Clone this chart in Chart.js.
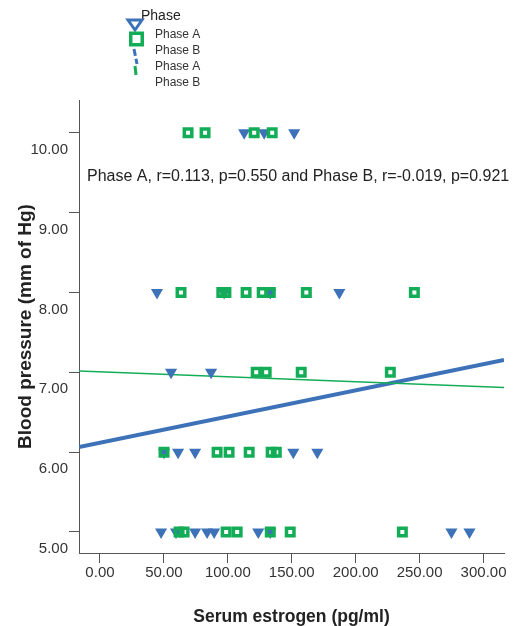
<!DOCTYPE html>
<html>
<head>
<meta charset="utf-8">
<script src="https://cdn.jsdelivr.net/npm/chart.js@4.4.1/dist/chart.umd.min.js"></script>
<style>
  html, body { margin: 0; padding: 0; background: #fff; }
  #wrap { width: 516px; height: 626px; position: relative; }
</style>
</head>
<body>
<div id="wrap"><canvas id="chartBP"></canvas></div>
<script>
// ===== DATA =====
// Phase A (blue triangles)
const phaseAX = [112.8, 128.4, 151.9,
  44.6, 97.1, 133.2, 187.2,
  55.6, 86.9,
  50.1, 61.1, 74.4, 151.2, 170.0,
  47.8, 59.5, 74.4, 83.8, 89.3, 123.8, 133.2, 274.9, 289.0];
const phaseAY = [10, 10, 10,
  8, 8, 8, 8,
  7, 7,
  6, 6, 6, 6, 6,
  5, 5, 5, 5, 5, 5, 5, 5, 5];

// Phase B (green squares)
const phaseBX = [68.9, 82.2, 120.6, 134.7,
  63.4, 95.3, 98.5, 114.3, 126.9, 133.2, 161.4, 245.9,
  122.2, 130.0, 157.4, 227.1,
  50.1, 91.6, 101.0, 116.7, 133.9, 137.9,
  61.9, 65.8, 98.7, 107.3, 133.2, 148.8, 236.5];
const phaseBY = [10, 10, 10, 10,
  8, 8, 8, 8, 8, 8, 8, 8,
  7, 7, 7, 7,
  6, 6, 6, 6, 6, 6,
  5, 5, 5, 5, 5, 5, 5];

// fit lines (end points across the x range)
const fitX = [-16.4, 316];
const fitA = [6.065, 7.155];
const fitB = [7.016, 6.81];

const xTicks = [0, 50, 100, 150, 200, 250, 300];
const yTicks = [5, 6, 7, 8, 9, 10];
const legendLabels = ['Phase A', 'Phase B', 'Phase A', 'Phase B'];
const statsText = 'Phase A, r=0.113, p=0.550 and Phase B, r=-0.019, p=0.921';

const BLUE = '#3d72b8';
const GREEN = '#14ad57';
const FONT = '"Liberation Sans", Arial, sans-serif';

const pts = (xs, ys) => xs.map((x, i) => ({ x: x, y: ys[i] }));

// ===== LEGEND + ANNOTATION =====
const extrasPlugin = {
  id: 'extras',
  afterDraw(chart) {
    const ctx = chart.ctx;
    ctx.save();
    ctx.fillStyle = '#222';
    ctx.textBaseline = 'middle';
    ctx.textAlign = 'left';
    ctx.font = '14px ' + FONT;
    ctx.fillText('Phase', 141, 16);

    ctx.font = '12px ' + FONT;
    ctx.fillStyle = '#333';
    legendLabels.forEach((t, i) => ctx.fillText(t, 155, 35 + i * 16));

    // triangle marker
    ctx.beginPath();
    ctx.moveTo(128, 20); ctx.lineTo(142, 20); ctx.lineTo(135, 30); ctx.closePath();
    ctx.fillStyle = '#fff'; ctx.fill();
    ctx.strokeStyle = BLUE; ctx.lineWidth = 3; ctx.stroke();

    // square marker
    ctx.strokeStyle = GREEN; ctx.lineWidth = 3.5;
    ctx.strokeRect(130.75, 33.25, 11.5, 11.5);

    // dashed line samples
    ctx.lineWidth = 3;
    ctx.setLineDash([7, 3]);
    ctx.strokeStyle = BLUE;
    ctx.beginPath(); ctx.moveTo(134, 49); ctx.lineTo(137, 64); ctx.stroke();
    ctx.setLineDash([]);
    ctx.strokeStyle = GREEN;
    ctx.beginPath(); ctx.moveTo(135, 66); ctx.lineTo(136, 75); ctx.stroke();

    // stats annotation
    ctx.fillStyle = '#222';
    ctx.font = '16px ' + FONT;
    ctx.fillText(statsText, 87, 177);
    ctx.restore();
  }
};

// ===== CHART =====
new Chart(document.getElementById('chartBP'), {
  type: 'scatter',
  data: {
    datasets: [
      { label: 'Phase B', data: pts(phaseBX, phaseBY), order: 1,
        pointStyle: 'rect', pointRadius: 5.3, pointBorderWidth: 3.5,
        borderColor: GREEN, backgroundColor: 'rgba(0,0,0,0)' },
      { label: 'Phase A', data: pts(phaseAX, phaseAY), order: 2,
        pointStyle: 'triangle', pointRotation: 180, pointRadius: 7, pointBorderWidth: 0,
        borderColor: BLUE, backgroundColor: BLUE },
      { type: 'line', label: 'Fit B', data: pts(fitX, fitB), order: 3,
        borderColor: GREEN, borderWidth: 1.5, pointRadius: 0, fill: false },
      { type: 'line', label: 'Fit A', data: pts(fitX, fitA), order: 4,
        borderColor: BLUE, borderWidth: 4, pointRadius: 0, fill: false }
    ]
  },
  options: {
    responsive: true,
    maintainAspectRatio: false,
    animation: false,
    layout: { padding: { top: 100, right: 12, left: 0, bottom: 0 } },
    plugins: { legend: { display: false }, tooltip: { enabled: false } },
    scales: {
      x: {
        type: 'linear', min: -16.4, max: 316,
        afterBuildTicks: s => { s.ticks = xTicks.map(v => ({ value: v })); },
        afterFit: s => { s.height = 73; },
        border: { display: true, color: '#555', width: 1 },
        grid: { drawOnChartArea: false, drawTicks: true, tickLength: 10, color: '#555' },
        ticks: { color: '#333', padding: 1, maxRotation: 0, font: { family: FONT, size: 15 },
          callback: v => Number(v).toFixed(2) },
        title: { display: true, text: 'Serum estrogen (pg/ml)', color: '#222',
          padding: { top: 0, bottom: 0 },
          font: { family: FONT, size: 17.5, weight: 'bold', lineHeight: 1 } }
      },
      y: {
        type: 'linear', min: 4.737, max: 10.41,
        afterBuildTicks: s => { s.ticks = yTicks.map(v => ({ value: v })); },
        afterFit: s => { s.width = 79; },
        border: { display: true, color: '#555', width: 1 },
        grid: { drawOnChartArea: false, drawTicks: true, tickLength: 10, color: '#555' },
        ticks: { color: '#333', padding: 1, labelOffset: 17, font: { family: FONT, size: 15 },
          callback: v => Number(v).toFixed(2) },
        title: { display: true, text: 'Blood pressure (mm of Hg)', color: '#222',
          padding: { top: 14, bottom: 0 }, font: { family: FONT, size: 19, weight: 'bold' } }
      }
    }
  },
  plugins: [extrasPlugin]
});
</script>
</body>
</html>
